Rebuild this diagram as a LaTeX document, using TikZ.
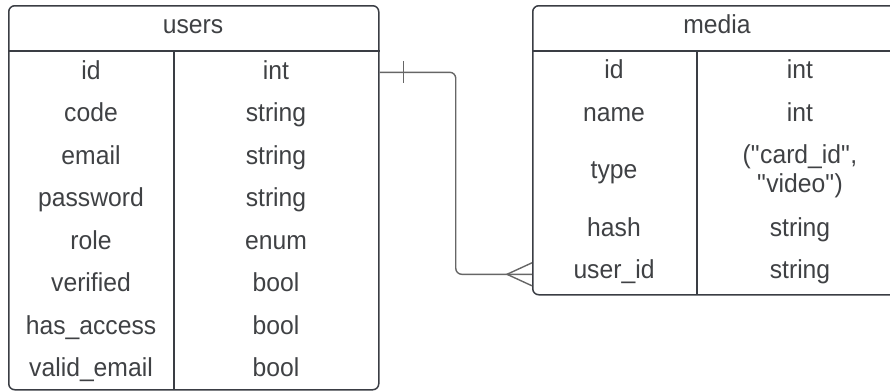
\documentclass[tikz,border=0pt]{standalone}
\usepackage{fontspec}
\setmainfont{Liberation Sans}[FakeStretch=0.95]
\usetikzlibrary{calc}
\definecolor{linec}{HTML}{3A3D44}
\definecolor{txtc}{HTML}{3F4144}
\definecolor{connc}{HTML}{666666}
\begin{document}
\begin{tikzpicture}[x=1pt,y=-1pt,
  tbl/.style={draw=linec, line width=1.5pt, rounded corners=6pt, anchor=north west, inner sep=0pt},
  sep/.style={draw=linec, line width=2pt},
  coldiv/.style={draw=linec, line width=1.6pt},
  txt/.style={anchor=base, inner sep=0pt, text=txtc, font=\fontsize{26}{30}\selectfont},
  conn/.style={draw=connc, line width=1.4pt}]
\useasboundingbox (0,0) rectangle (890,391);
\clip (0,0) rectangle (890,391);
% users table
\node[tbl, minimum width=370pt, minimum height=384pt] (users) at (8,5) {};
\coordinate (uh1) at ($(users.north west)+(0,46)$);
\coordinate (uh2) at ($(users.north east)+(0,46)$);
\draw[sep] (uh1) -- (uh2);
\coordinate (ud1) at (174,51);
\coordinate (ud2) at (174,389);
\draw[coldiv] (ud1) -- (ud2);
\node[txt] (usersT) at (193,33) {users};
\node[txt] (u1a) at (91,79) {id};          \node[txt] (u1b) at (276,79) {int};
\node[txt] (u2a) at (91,121.5) {code};     \node[txt] (u2b) at (276,121.5) {string};
\node[txt] (u3a) at (91,164) {email};      \node[txt] (u3b) at (276,164) {string};
\node[txt] (u4a) at (91,206.5) {password}; \node[txt] (u4b) at (276,206.5) {string};
\node[txt] (u5a) at (91,249) {role};       \node[txt] (u5b) at (276,249) {enum};
\node[txt] (u6a) at (91,291.5) {verified}; \node[txt] (u6b) at (276,291.5) {bool};
\node[txt] (u7a) at (91,334) {has\_access}; \node[txt] (u7b) at (276,334) {bool};
\node[txt] (u8a) at (91,376.5) {valid\_email}; \node[txt] (u8b) at (276,376.5) {bool};
% media table
\node[tbl, minimum width=370pt, minimum height=289pt] (media) at (532,5) {};
\coordinate (mh1) at ($(media.north west)+(0,46)$);
\coordinate (mh2) at ($(media.north east)+(0,46)$);
\draw[sep] (mh1) -- (mh2);
\coordinate (md1) at (697,51);
\coordinate (md2) at (697,294);
\draw[coldiv] (md1) -- (md2);
\node[txt] (mediaT) at (717,33) {media};
\node[txt] (m1a) at (614,78.5) {id};      \node[txt] (m1b) at (800,78.5) {int};
\node[txt] (m2a) at (614,121) {name};     \node[txt] (m2b) at (800,121) {int};
\node[txt] (m3a) at (614,178.5) {type};   \node[txt] (m3b) at (800,163.5) {(\textquotedbl card\_id\textquotedbl,};
\node[txt] (m3c) at (800,192.5) {\textquotedbl video\textquotedbl)};
\node[txt] (m4a) at (614,236) {hash};     \node[txt] (m4b) at (800,236) {string};
\node[txt] (m5a) at (614,278.5) {user\_id}; \node[txt] (m5b) at (800,278.5) {string};
% connector
\coordinate (ua) at ($(users.north east)+(0,67.3)$);
\coordinate (mb) at ($(media.north west)+(0,269.3)$);
\draw[conn, rounded corners=6pt] (ua) -| ($(ua)!.5!(mb)$) |- (mb);
\draw[conn] ($(ua)+(24,-11)$) -- ($(ua)+(24,11)$);
\draw[conn] ($(mb)+(0,-11.5)$) -- ($(mb)+(-25,0)$) -- ($(mb)+(0,11.5)$);
\end{tikzpicture}
\end{document}
